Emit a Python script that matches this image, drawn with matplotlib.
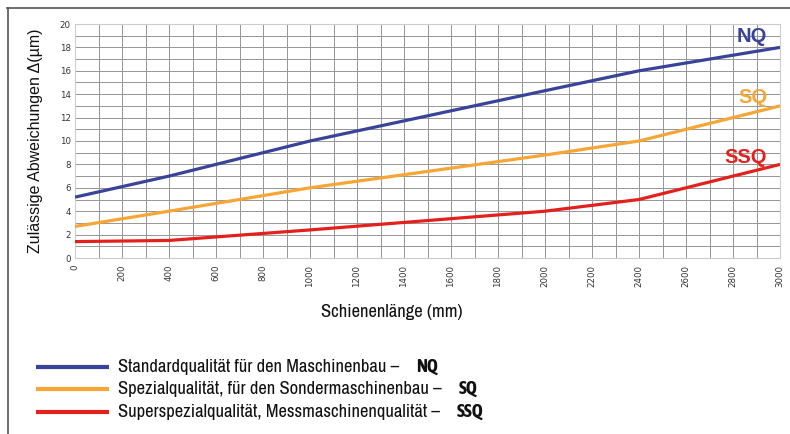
import matplotlib
matplotlib.use("Agg")
import matplotlib.pyplot as plt
from matplotlib import font_manager
from matplotlib.font_manager import FontProperties
from matplotlib.lines import Line2D

# Werte
laenge = [0, 400, 1000, 2000, 2400, 3000]
nq = [5.2, 7.0, 10.0, 14.3, 16.0, 18.0]
sq = [2.7, 4.0, 6.0, 8.8, 10.0, 13.0]
ssq = [1.4, 1.5, 2.4, 4.0, 5.0, 8.0]

klassen = ["NQ", "SQ", "SSQ"]
farben = ["#37449a", "#f7a535", "#e4201d"]
beschreibung = [
    "Standardqualität für den Maschinenbau –    ",
    "Spezialqualität, für den Sondermaschinenbau –    ",
    "Superspezialqualität, Messmaschinenqualität –    ",
]

x_ticks = list(range(0, 3001, 200))
y_ticks = list(range(0, 21, 2))

# schmale Schrift suchen (normal + fett), sonst Liberation Sans
normal = FontProperties(family="Liberation Sans")
fett = FontProperties(family="Liberation Sans", weight="bold")
kandidaten = [f for f in font_manager.fontManager.ttflist
              if ("Condensed" in f.name or "Narrow" in f.name) and f.style == "normal"]
reg = [f for f in kandidaten if f.weight in (400, "normal", "regular")]
bld = [f for f in kandidaten if isinstance(f.weight, int) and f.weight >= 600 or f.weight == "bold"]
if reg:
    normal = FontProperties(fname=reg[0].fname)
if bld:
    bld.sort(key=lambda f: abs((f.weight if isinstance(f.weight, int) else 700) - 700))
    fett = FontProperties(fname=bld[0].fname)

fig = plt.figure(figsize=(7.9, 4.34), dpi=100)
ax = fig.add_axes([75 / 790, 176 / 434, 705 / 790, 234 / 434])

for werte, farbe in zip([nq, sq, ssq], farben):
    ax.plot(laenge, werte, color=farbe, lw=2.3, solid_capstyle="butt", zorder=3)

ax.set_xlim(0, 3000)
ax.set_ylim(0, 20)
ax.set_xticks(x_ticks)
ax.set_yticks(y_ticks)
ax.set_xticks(range(0, 3001, 100), minor=True)
ax.set_yticks(range(0, 21, 1), minor=True)
ax.grid(which="both", color="#959595", lw=0.7)
ax.tick_params(which="both", length=0, colors="#333333", labelsize=6.2, pad=3)
ax.tick_params(axis="x", labelrotation=90, pad=5)
for s in ax.spines.values():
    s.set_color("#cccccc")
    s.set_linewidth(0.8)

ax.set_ylabel("Zulässige Abweichungen Δ(µm)", family="Liberation Sans", fontsize=11.5,
              labelpad=12, color="#111111")

# Kennzeichnungen rechts an den Kurven
y_text = [18.9, 13.7, 8.6]
for name, farbe, yt in zip(klassen, farben, y_text):
    ax.text(2945, yt, name, color=farbe, fontsize=14.5, fontweight="bold",
            family="Liberation Sans", ha="right", va="center")

fig.canvas.draw()
renderer = fig.canvas.get_renderer()


def breite(t):
    return t.get_window_extent(renderer).width


xl = fig.text(392 / 790, 1 - 312 / 434, "Schienenlänge (mm)", fontproperties=normal.copy(),
              ha="center", va="center", color="#111111")
xl.set_fontsize(12)
xl.set_fontsize(12 * 142 / breite(xl))

# Legende von Hand
leg_y = [367, 389, 412]
fs = None
for name, farbe, text, py in zip(klassen, farben, beschreibung, leg_y):
    yf = 1 - py / 434
    fig.add_artist(Line2D([36 / 790, 109 / 790], [yf, yf], color=farbe, lw=3.0,
                          solid_capstyle="butt"))
    t = fig.text(118 / 790, yf, text, fontproperties=normal.copy(), va="center", color="#111111")
    b = fig.text(0, yf, name, fontproperties=fett.copy(), va="center", color="#111111")
    if fs is None:
        t.set_fontsize(12)
        b.set_fontsize(12)
        fs = 12 * 320 / (breite(t) + breite(b))
    t.set_fontsize(fs)
    b.set_fontsize(fs)
    b.set_x(t.get_window_extent(renderer).x1 / 790)

# Rahmen
fig.add_artist(Line2D([7 / 790, 1], [1 - 7.5 / 434, 1 - 7.5 / 434], color="#555555", lw=1.2))
fig.add_artist(Line2D([7.5 / 790, 7.5 / 790], [0, 1 - 7.5 / 434], color="#555555", lw=1.2))

fig.savefig("out.png", dpi=100)
